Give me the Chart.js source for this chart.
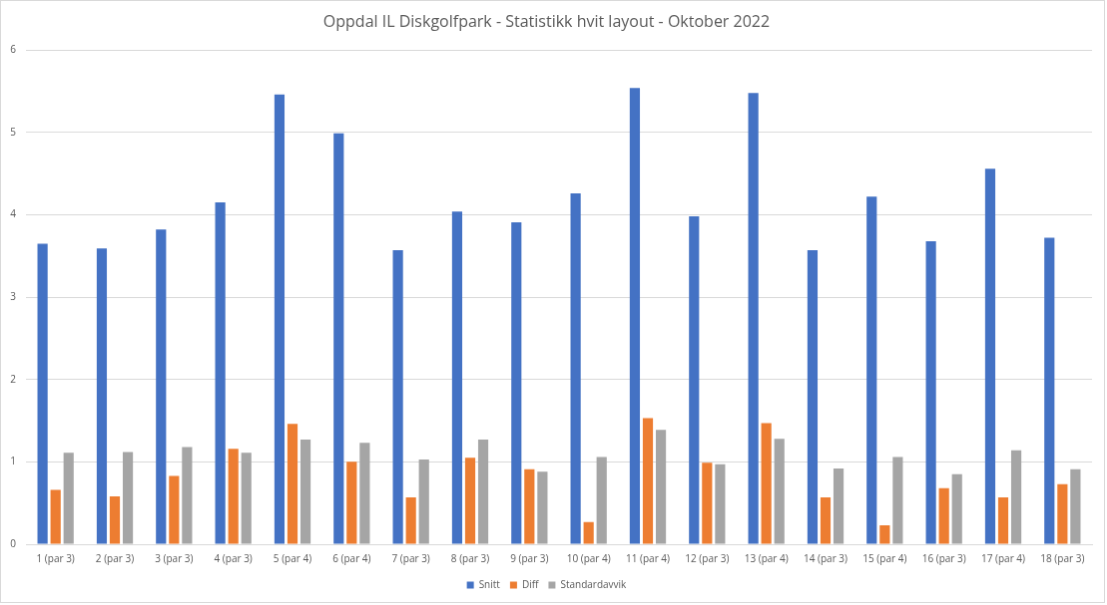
<!DOCTYPE html>
<html>
<head>
<meta charset="utf-8">
<script src="https://cdn.jsdelivr.net/npm/chart.js@4"></script>
<style>
html,body{margin:0;padding:0;background:#fff;}
#c{display:block;border:1px solid #d9d9d9;}
</style>
</head>
<body>
<canvas id="c" width="1105" height="603"></canvas>
<script>
const categories = ["1 (par 3)","2 (par 3)","3 (par 3)","4 (par 3)","5 (par 4)","6 (par 4)","7 (par 3)","8 (par 3)","9 (par 3)","10 (par 4)","11 (par 4)","12 (par 3)","13 (par 4)","14 (par 3)","15 (par 4)","16 (par 3)","17 (par 4)","18 (par 3)"];
const snitt = [3.65,3.59,3.82,4.15,5.46,4.99,3.57,4.04,3.91,4.26,5.54,3.98,5.48,3.57,4.22,3.68,4.56,3.72];
const diff = [0.66,0.58,0.83,1.16,1.46,1.00,0.57,1.05,0.91,0.27,1.53,0.99,1.47,0.57,0.23,0.68,0.57,0.73];
const standardavvik = [1.11,1.12,1.18,1.11,1.27,1.23,1.03,1.27,0.88,1.06,1.39,0.97,1.28,0.92,1.06,0.85,1.14,0.91];
const yTicks = [0,1,2,3,4,5,6];

const font = "'Open Sans', 'Liberation Sans', sans-serif";
const ds = (label, data, color) => ({label, data, backgroundColor: color, borderWidth: 0, categoryPercentage: 0.66, barPercentage: 0.78});

new Chart(document.getElementById('c'), {
  type: 'bar',
  data: {
    labels: categories,
    datasets: [ds('Snitt', snitt, '#4472c4'), ds('Diff', diff, '#ed7d31'), ds('Standardavvik', standardavvik, '#a5a5a5')]
  },
  options: {
    responsive: false,
    animation: false,
    layout: {padding: {left: 0, right: 12, top: 6, bottom: 2}},
    plugins: {
      title: {display: true, text: 'Oppdal IL Diskgolfpark - Statistikk hvit layout - Oktober 2022', color: '#595959', font: {family: font, size: 16, weight: 'normal'}, padding: {top: 6, bottom: 18}},
      legend: {position: 'bottom', labels: {color: '#595959', font: {family: font, size: 10}, boxWidth: 7, boxHeight: 7, padding: 10}},
      tooltip: {enabled: false}
    },
    scales: {
      x: {
        grid: {display: false},
        border: {color: '#d9d9d9'},
        ticks: {color: '#595959', font: {family: font, size: 10}, maxRotation: 0, autoSkip: false, padding: 1},
        afterFit: s => { s.height = 26; }
      },
      y: {
        min: 0, max: 6,
        afterBuildTicks: s => { s.ticks = yTicks.map(v => ({value: v})); },
        grid: {color: '#d9d9d9', drawTicks: false},
        border: {display: false},
        ticks: {color: '#595959', font: {family: font, size: 10}, padding: 10},
        afterFit: s => { s.width = 25; }
      }
    }
  }
});
</script>
</body>
</html>
